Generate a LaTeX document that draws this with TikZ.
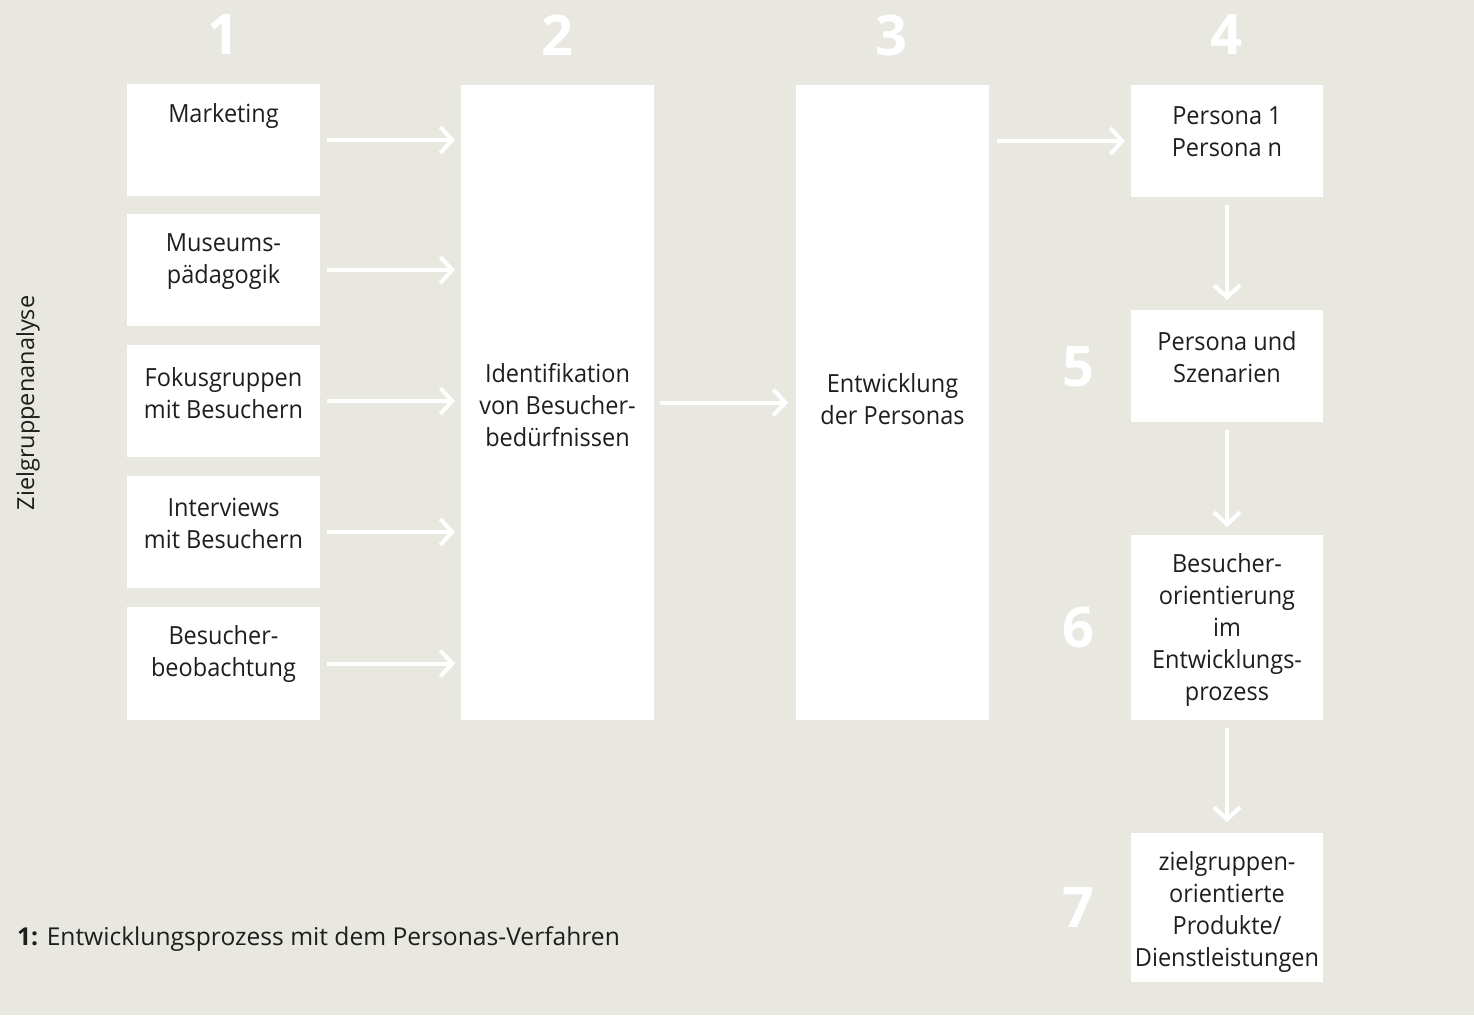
\documentclass[tikz,border=0pt]{standalone}
\usepackage{fontspec}
\setmainfont{Open Sans}
\newfontfamily\boxfont{Open Sans}[FakeStretch=0.94]
\usetikzlibrary{arrows.meta}
\definecolor{bg}{HTML}{E8E7E0}
\definecolor{txt}{HTML}{1E1E1E}
\begin{document}
\begin{tikzpicture}[x=1pt,y=-1pt,
  box/.style={fill=white,draw=none,minimum width=193pt,inner sep=0pt,outer sep=0pt},
  lbl/.style={text=txt,align=center,inner sep=0pt,font=\boxfont\fontsize{25}{32}\selectfont},
  num/.style={text=white,inner sep=0pt,font=\fontsize{56}{56}\selectfont\bfseries},
  flow/.style={draw=white,line width=4pt,-{Straight Barb[length=12pt,width=26pt,line width=4pt]}}
]
\fill[bg] (0,0) rectangle (1474,1015);
\useasboundingbox (0,0) rectangle (1474,1015);

% numbers
\node[num] (n1) at (223,35) {1};
\node[num] (n2) at (557,35) {2};
\node[num] (n3) at (891,35) {3};
\node[num] (n4) at (1226,35) {4};
\node[num] (n5) at (1078,367) {5};
\node[num] (n6) at (1078,628) {6};
\node[num] (n7) at (1078,908) {7};

% column 1
\node[box,minimum height=112pt] (m1) at (223.5,140) {};
\node[lbl] (t1) at (223.5,116) {Marketing};
\node[box,minimum height=112pt] (m2) at (223.5,270) {};
\node[lbl] (t2) at (223.5,262) {Museums-\\pädagogik};
\node[box,minimum height=112pt] (m3) at (223.5,401) {};
\node[lbl] (t3) at (223.5,393) {Fokusgruppen\\mit Besuchern};
\node[box,minimum height=112pt] (m4) at (223.5,532) {};
\node[lbl] (t4) at (223.5,523) {Interviews\\mit Besuchern};
\node[box,minimum height=113pt] (m5) at (223.5,663.5) {};
\node[lbl] (t5) at (223.5,654) {Besucher-\\beobachtung};

% column 2 and 3
\node[box,minimum height=635pt] (id) at (557.5,402.5) {};
\node[lbl] (tid) at (557.5,405) {Identifikation\\von Besucher-\\bedürfnissen};
\node[box,minimum height=635pt] (ent) at (892.5,402.5) {};
\node[lbl] (tent) at (892.5,399) {Entwicklung\\der Personas};

% column 4
\node[box,minimum width=192pt,minimum height=112pt] (p1) at (1227,141) {};
\node[lbl] (tp1) at (1227,132) {Persona 1\\Persona n};
\node[box,minimum width=192pt,minimum height=112pt] (p2) at (1227,366) {};
\node[lbl] (tp2) at (1227,357) {Persona und\\Szenarien};
\node[box,minimum width=192pt,minimum height=185pt] (p3) at (1227,627.5) {};
\node[lbl] (tp3) at (1227,630) {Besucher-\\orientierung\\im\\Entwicklungs-\\prozess};
\node[box,minimum width=192pt,minimum height=149pt] (p4) at (1227,907.5) {};
\node[lbl] (tp4) at (1227,912) {zielgruppen-\\orientierte\\Produkte/\\Dienstleistungen};

% arrows
\foreach \b in {m1,m2,m3,m4,m5}
  \draw[flow,shorten <=7pt,shorten >=6pt] (\b.east) -- (\b.east -| id.west);
\draw[flow,shorten <=6pt,shorten >=8pt] (id.east) -- (id.east -| ent.west);
\draw[flow,shorten <=8pt,shorten >=6pt] (ent.east |- p1.west) -- (p1.west);
\draw[flow,shorten <=8pt,shorten >=10pt] (p1.south) -- (p2.north);
\draw[flow,shorten <=8pt,shorten >=8pt] (p2.south) -- (p3.north);
\draw[flow,shorten <=8pt,shorten >=11pt] (p3.south) -- (p4.north);

% side and caption
\node[text=txt,inner sep=0pt,rotate=90,font=\fontsize{23.5}{28}\selectfont] (side) at (28,403) {Zielgruppenanalyse};
\node[text=txt,inner sep=0pt,anchor=base west,font=\fontsize{24.6}{30}\selectfont] (cap) at (17,945) {\textbf{1:} Entwicklungsprozess mit dem Personas-Verfahren};
\end{tikzpicture}
\end{document}
